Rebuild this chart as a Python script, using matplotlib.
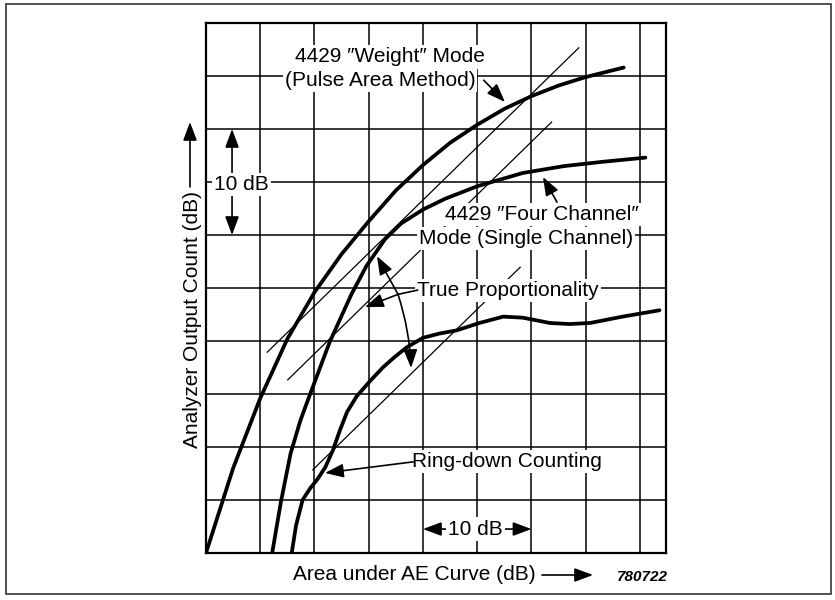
import matplotlib
matplotlib.use("Agg")
import matplotlib.pyplot as plt
from matplotlib.patches import Rectangle, FancyArrowPatch

plt.rcParams['font.family'] = ['Liberation Sans', 'DejaVu Sans']

# Analyzer response, x = area under AE curve (dB), y = output count (dB)
weight_x = [0, 2.5, 5, 7.5, 10, 12.5, 15, 17.5, 20, 22.5, 25, 27.5, 30, 32.5, 35, 38.5]
weight_y = [0, 8.0, 14.6, 20.2, 24.6, 28.2, 31.3, 34.2, 36.6, 38.7, 40.4, 41.9, 43.1, 44.1, 44.9, 45.8]

four_x = [6.1, 6.9, 7.8, 8.7, 9.6, 11.4, 13.4, 14.8, 16.5, 18.0, 20.0, 22.0, 25.0, 29.2, 33.0, 36.5, 40.5]
four_y = [0, 4.8, 9.4, 12.5, 15.0, 19.9, 24.4, 27.1, 29.6, 31.1, 32.4, 33.4, 34.6, 35.85, 36.5, 36.9, 37.3]

ring_x = [7.9, 8.3, 8.9, 9.6, 10.3, 11.0, 11.7, 12.35, 13.0, 13.9, 15.1, 16.3, 17.4, 18.5,
          20.0, 21.5, 23.1, 25.2, 27.4, 29.2, 31.7, 33.5, 35.4, 38.4, 41.8]
ring_y = [0, 2.6, 5.0, 6.1, 7.0, 8.1, 9.7, 11.6, 13.3, 14.8, 16.2, 17.5, 18.5, 19.4,
          20.3, 20.7, 21.0, 21.7, 22.3, 22.2, 21.7, 21.6, 21.7, 22.3, 22.9]

# True-proportionality references (unit slope): offset and x extent of each
prop_offset = [13.3, 8.8, -2.0]
prop_x0 = [5.6, 7.5, 9.8]
prop_x1 = [34.4, 31.9, 29.0]

x_max, y_max, grid_step = 42.4, 50, 5

fig = plt.figure(figsize=(8.35, 6.0), dpi=100)
ax = fig.add_axes([206 / 835, 1 - 553 / 600, 460 / 835, 530 / 600])
ax.set_xlim(0, x_max)
ax.set_ylim(0, y_max)
ax.set_xticks(range(0, 41, grid_step))
ax.set_yticks(range(0, y_max + 1, grid_step))
ax.tick_params(length=0, labelbottom=False, labelleft=False)
ax.grid(True, color='black', lw=1.1)
ax.set_axisbelow(True)
for s in ax.spines.values():
    s.set_linewidth(1.6)

thin = dict(color='black', lw=0.9, zorder=2, solid_capstyle='butt')
for off, a, b in zip(prop_offset, prop_x0, prop_x1):
    ax.plot([a, b], [a + off, b + off], **thin)

thick = dict(color='black', lw=2.7, zorder=3, solid_joinstyle='round', solid_capstyle='round')
ax.plot(weight_x, weight_y, **thick)
ax.plot(four_x, four_y, **thick)
ax.plot(ring_x, ring_y, **thick)

box = dict(facecolor='white', edgecolor='none', pad=1.5)
fs = 15
head = 'head_length=0.75,head_width=0.28'
arrow = dict(arrowstyle='-|>,' + head, color='black', lw=1.2,
             mutation_scale=15, shrinkA=0, shrinkB=0)
dbl = dict(arrow, arrowstyle='<|-|>,' + head)

ax.text(16.96, 46.8, '4429 \u2033Weight\u2033 Mode', ha='center', va='center', fontsize=fs, bbox=box, zorder=6)
ax.text(16.04, 44.6, '(Pulse Area Method)', ha='center', va='center', fontsize=fs, bbox=box, zorder=6)
ax.annotate('', xy=(27.56, 42.55), xytext=(25.6, 44.6), arrowprops=arrow, zorder=7)

ax.text(31.0, 31.9, '4429 \u2033Four Channel\u2033', ha='center', va='center', fontsize=fs, bbox=box, zorder=6)
ax.text(29.5, 29.7, 'Mode (Single Channel)', ha='center', va='center', fontsize=fs, bbox=box, zorder=6)
ax.annotate('', xy=(31.06, 35.47), xytext=(32.35, 33.1), arrowprops=arrow, zorder=7)

ax.text(19.45, 24.8, 'True Proportionality', ha='left', va='center', fontsize=fs, bbox=box, zorder=6)
src = (17.7, 24.4)
ax.plot([src[0], 19.5], [src[1], 24.8], color='black', lw=1.2, zorder=7)
for tip, rad in [((15.76, 28.0), 0.0), ((14.65, 23.2), 0.0), ((18.9, 17.45), -0.07)]:
    ax.annotate('', xy=tip, xytext=src, zorder=7,
                arrowprops=dict(arrow, connectionstyle=f'arc3,rad={rad}'))

ax.text(19.0, 8.6, 'Ring-down Counting', ha='left', va='center', fontsize=fs, bbox=box, zorder=6)
ax.annotate('', xy=(10.97, 7.55), xytext=(19.1, 8.6), arrowprops=arrow, zorder=7)

# 10 dB scale markers
ax.annotate('', xy=(2.4, 40), xytext=(2.4, 30), arrowprops=dbl, zorder=5)
ax.text(3.23, 34.8, '10 dB', ha='center', va='center', fontsize=fs, bbox=box, zorder=6)
ax.annotate('', xy=(20, 2.26), xytext=(30, 2.26), arrowprops=dbl, zorder=5)
ax.text(24.8, 2.26, '10 dB', ha='center', va='center', fontsize=fs, bbox=box, zorder=6)

# Axis titles with direction arrows
fig.text(193 / 835, 1 - 320 / 600, 'Analyzer Output Count (dB)', rotation=90,
         ha='center', va='center', fontsize=fs)
fig.add_artist(FancyArrowPatch((190 / 835, 1 - 187 / 600), (190 / 835, 1 - 122 / 600),
                               transform=fig.transFigure, **arrow))
fig.text(414 / 835, 1 - 575 / 600, 'Area under AE Curve (dB)', ha='center', va='center', fontsize=fs)
fig.add_artist(FancyArrowPatch((542 / 835, 1 - 575 / 600), (593 / 835, 1 - 575 / 600),
                               transform=fig.transFigure, **arrow))
fig.text(642 / 835, 1 - 577 / 600, '780722', ha='center', va='center', fontsize=11,
         style='italic', weight='bold')

fig.add_artist(Rectangle((6 / 835, 6 / 600), 825 / 835, 590 / 600, transform=fig.transFigure,
                         fill=False, edgecolor='#333333', lw=1.2))

fig.savefig('out.png', dpi=100)
